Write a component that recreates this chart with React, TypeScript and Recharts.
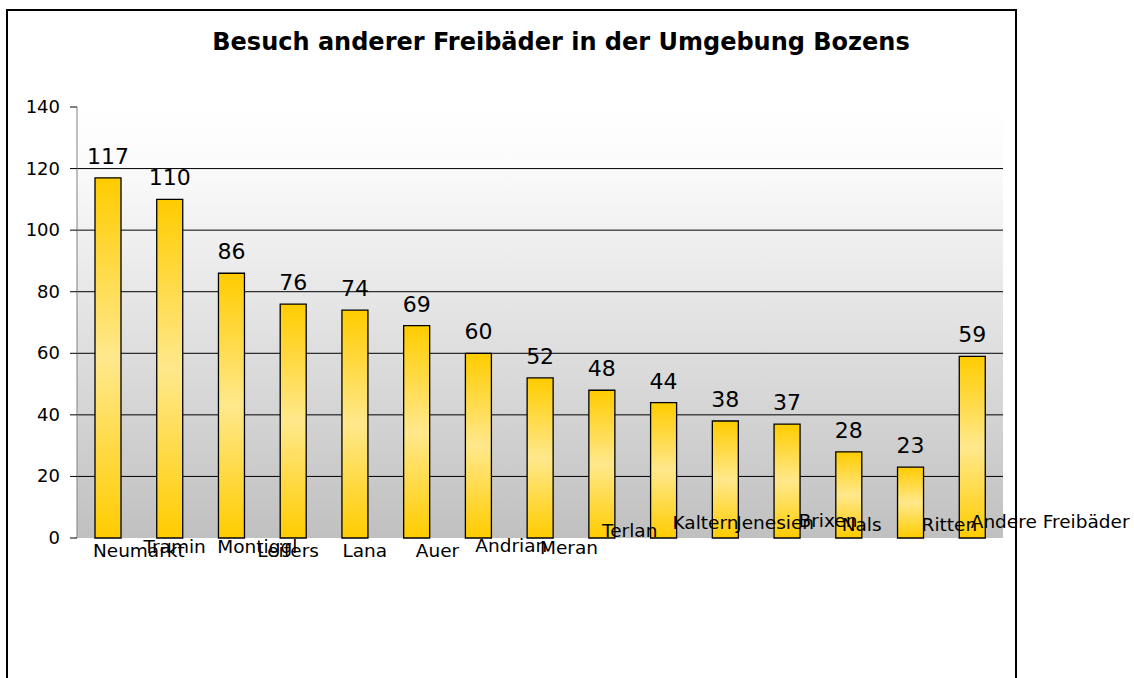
import { Bar, BarChart, CartesianGrid, LabelList, XAxis, YAxis } from 'recharts'

const places = [
  'Neumarkt',
  'Tramin',
  'Montiggl',
  'Leifers',
  'Lana',
  'Auer',
  'Andrian',
  'Meran',
  'Terlan',
  'Kaltern',
  'Jenesien',
  'Brixen',
  'Nals',
  'Ritten',
  'Andere Freibäder',
]

const visits = [117, 110, 86, 76, 74, 69, 60, 52, 48, 44, 38, 37, 28, 23, 59]

const yTicks = [0, 20, 40, 60, 80, 100, 120, 140]

// the category labels in the original sit at odd spots; [dx, baseline] from the axis
const labelShift: [number, number][] = [
  [31, 19], [5, 15], [26, 15], [-5, 19], [10, 19], [21, 19], [33, 14], [29, 16],
  [28, -1], [42, -9], [50, -9], [41, -11], [13, -7], [39, -7], [78, -10],
]

const data = places.map((place, i) => ({ place, visits: visits[i], idx: i + 0.5 }))

const FONT = '"DejaVu Sans", Verdana, sans-serif'

function PlaceTick(props: any) {
  const { x, y, payload, index } = props
  const [dx, base] = labelShift[index] ?? [0, 16]
  return (
    <text x={x + dx} y={y + base} textAnchor="middle" fontSize={18.5} fontFamily={FONT} fill="#000">
      {payload.value}
    </text>
  )
}

function ValueTick(props: any) {
  const { x, y, payload } = props
  return (
    <text x={x} y={y + 6} textAnchor="end" fontSize={18} fontFamily={FONT} fill="#000">
      {payload.value}
    </text>
  )
}

export default function App() {
  return (
    <div style={{ position: 'absolute', left: 0, top: 0, width: 1134, height: 678, overflow: 'hidden', background: '#fff' }}>
      <div
        style={{
          position: 'absolute',
          left: 6,
          top: 9,
          width: 1007,
          height: 700,
          border: '2px solid #000',
        }}
      />
      <div
        style={{
          position: 'absolute',
          left: 0,
          top: 27,
          width: 1122,
          textAlign: 'center',
          fontFamily: FONT,
          fontWeight: 'bold',
          fontSize: 24,
          lineHeight: '30px',
        }}
      >
        Besuch anderer Freibäder in der Umgebung Bozens
      </div>
      <div style={{ position: 'absolute', left: 0, top: 0 }}>
        <BarChart
          width={1134}
          height={678}
          data={data}
          margin={{ top: 107, right: 131, bottom: 110, left: 17 }}
        >
          <defs>
            <linearGradient id="plotBg" x1="0" y1="0" x2="0" y2="1">
              <stop offset="0%" stopColor="#ffffff" />
              <stop offset="15%" stopColor="#fafafa" />
              <stop offset="100%" stopColor="#c0c0c0" />
            </linearGradient>
            <linearGradient id="barFill" x1="0" y1="0" x2="0" y2="1">
              <stop offset="0%" stopColor="#ffcc00" />
              <stop offset="50%" stopColor="#ffe88c" />
              <stop offset="100%" stopColor="#ffcc00" />
            </linearGradient>
          </defs>
          <CartesianGrid
            vertical={false}
            horizontalValues={[20, 40, 60, 80, 100, 120]}
            stroke="#000"
            strokeWidth={1}
            fill="url(#plotBg)"
            fillOpacity={1}
          />
          <XAxis
            dataKey="place"
            xAxisId="cat"
            tickLine={false}
            axisLine={false}
            tickSize={0}
            tickMargin={0}
            height={30}
            interval={0}
            tick={<PlaceTick />}
          />
          <XAxis
            xAxisId="frame"
            orientation="bottom"
            type="number"
            dataKey="idx"
            domain={[0, 15]}
            ticks={[0, 1, 2, 3, 4, 5, 6, 7, 8, 9, 10, 11, 12, 13, 14, 15]}
            tick={false}
            tickSize={6}
            tickLine={{ stroke: '#000' }}
            axisLine={{ stroke: '#000' }}
            height={0}
          />
          <XAxis xAxisId="top" orientation="top" type="number" domain={[0, 15]} tick={false} tickLine={false} axisLine={{ stroke: '#a0a0a0', strokeWidth: 1.5 }} height={0} />
          <YAxis
            domain={[0, 140]}
            ticks={yTicks}
            interval={0}
            width={60}
            tickSize={7}
            tickMargin={10}
            axisLine={{ stroke: '#808080' }}
            tickLine={{ stroke: '#000' }}
            tick={<ValueTick />}
          />
          <YAxis yAxisId="right" orientation="right" domain={[0, 140]} tick={false} tickLine={false} axisLine={{ stroke: '#a0a0a0', strokeWidth: 1.5 }} width={0} />
          <Bar
            dataKey="visits"
            xAxisId="cat"
            barSize={26}
            fill="url(#barFill)"
            stroke="#000"
            strokeWidth={1.3}
            isAnimationActive={false}
          >
            <LabelList dataKey="visits" position="top" offset={14} fontSize={22} fontFamily={FONT} fill="#000" />
          </Bar>
        </BarChart>
      </div>
    </div>
  )
}
